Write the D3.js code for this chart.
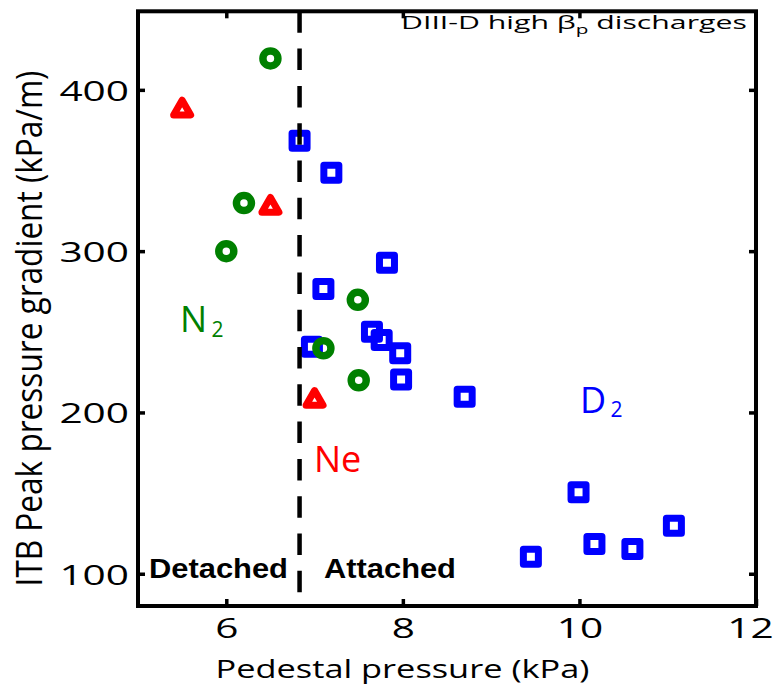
<!DOCTYPE html>
<html>
<head>
<meta charset="utf-8">
<script src="https://cdn.jsdelivr.net/npm/d3@7"></script>
<style>
  html, body { margin: 0; padding: 0; background: #ffffff; }
  svg { display: block; }
</style>
</head>
<body>
<svg id="chart" width="775" height="687"></svg>
<script>
// ---- data: pedestal pressure (kPa) vs ITB peak pressure gradient (kPa/m) ----
const d2Pressure = [6.83, 7.19, 7.10, 7.82, 6.97, 7.65, 7.76, 7.97, 7.98, 8.70, 9.99, 9.45, 10.17, 10.60, 11.07];
const d2Gradient = [368.5, 348.6, 276.5, 292.8, 240.8, 250.1, 244.9, 236.7, 220.5, 209.8, 150.5, 110.6, 118.4, 115.3, 129.8];

const n2Pressure = [6.50, 6.20, 6.00, 7.49, 7.10, 7.50];
const n2Gradient = [419.5, 329.8, 300.0, 269.8, 239.8, 220.0];

const nePressure = [5.50, 6.50, 7.00];
const neGradient = [389.0, 328.7, 209.0];

const xTicks = [6, 8, 10, 12];
const yTicks = [100, 200, 300, 400];
const detachmentBoundary = 6.83;

const xDomain = [5, 12];
const yDomain = [80, 448.7];

// ---- layout ----
const svg = d3.select("#chart");
const plotLeft = 138, plotRight = 756, plotTop = 11.3, plotBottom = 606;
const TEXT_STRETCH = 1.45;   // wide humanist lettering on the axes

const x = d3.scaleLinear().domain(xDomain).range([plotLeft, plotRight]);
const y = d3.scaleLinear().domain(yDomain).range([plotBottom, plotTop]);

const BLUE = "#0000ff", GREEN = "#008000", RED = "#ff0000";
const SANS = "'Open Sans', 'DejaVu Sans', sans-serif";

// helper: text scaled horizontally to a target width
function fitText(parent, str, opt) {
  const t = parent.append("text")
    .attr("x", 0).attr("y", 0)
    .attr("font-family", opt.family || SANS)
    .attr("font-size", opt.size)
    .attr("font-weight", opt.weight || "normal")
    .attr("fill", opt.color || "#000")
    .attr("text-anchor", opt.anchor || "start")
    .text(str);
  const w = t.node().getComputedTextLength();
  const s = opt.width ? opt.width / w : 1;
  t.attr("transform", `translate(${opt.x},${opt.y}) scale(${s},1)`);
  return t;
}

// ---- axes (ticks point inward on all four sides) ----
const axB = svg.append("g").attr("transform", `translate(0,${plotBottom})`)
  .call(d3.axisBottom(x).tickValues(xTicks).tickSizeInner(-7).tickSizeOuter(0).tickFormat(d3.format("d")));
const axL = svg.append("g").attr("transform", `translate(${plotLeft},0)`)
  .call(d3.axisLeft(y).tickValues(yTicks).tickSizeInner(-7).tickSizeOuter(0).tickFormat(d3.format("d")));
const axT = svg.append("g").attr("transform", `translate(0,${plotTop})`)
  .call(d3.axisTop(x).tickValues(xTicks.filter(v => v < 12)).tickSizeInner(-7).tickSizeOuter(0).tickFormat(""));
const axR = svg.append("g").attr("transform", `translate(${plotRight},0)`)
  .call(d3.axisRight(y).tickValues(yTicks).tickSizeInner(-7).tickSizeOuter(0).tickFormat(""));

[axB, axL, axT, axR].forEach(a => {
  a.select(".domain").remove();
  a.selectAll(".tick line").attr("stroke", "#000").attr("stroke-width", 3.5);
});

axB.selectAll(".tick text")
  .attr("font-family", SANS).attr("font-size", 28).attr("fill", "#000")
  .attr("text-anchor", "middle")
  .attr("dy", 0).attr("y", 32)
  .attr("x", d => d === 12 ? -6 / TEXT_STRETCH : 0)
  .attr("transform", `scale(${TEXT_STRETCH},1)`);

axL.selectAll(".tick text")
  .attr("font-family", SANS).attr("font-size", 28).attr("fill", "#000")
  .attr("text-anchor", "end")
  .attr("dy", 0).attr("y", 10.5)
  .attr("x", -9 / TEXT_STRETCH)
  .attr("transform", `scale(${TEXT_STRETCH},1)`);

// ---- detached / attached boundary (dashed, with a soft grey trace) ----
const blur = svg.append("defs").append("filter").attr("id", "soft")
  .attr("x", "-2").attr("width", "5");
blur.append("feGaussianBlur").attr("stdDeviation", 1.2);

svg.append("line")
  .attr("x1", x(detachmentBoundary)).attr("x2", x(detachmentBoundary))
  .attr("y1", plotTop).attr("y2", plotBottom)
  .attr("stroke", "#cfcfcf").attr("stroke-width", 4.5)
  .attr("filter", "url(#soft)");

// ---- markers ----
const squarePath = d3.symbol().type(d3.symbolSquare).size(225)();
const circlePath = d3.symbol().type(d3.symbolCircle).size(Math.PI * 7.5 * 7.5)();
const triS = 17, triH = triS * Math.sqrt(3) / 2;
const trianglePath = `M0,${-triH / 2}L${triS / 2},${triH / 2}L${-triS / 2},${triH / 2}Z`;

const d2 = d2Pressure.map((p, i) => ({ p, g: d2Gradient[i] }));
const n2 = n2Pressure.map((p, i) => ({ p, g: n2Gradient[i] }));
const ne = nePressure.map((p, i) => ({ p, g: neGradient[i] }));

svg.append("g").selectAll("path").data(d2).join("path")
  .attr("d", squarePath)
  .attr("transform", d => `translate(${x(d.p)},${y(d.g)})`)
  .attr("fill", "none").attr("stroke", BLUE).attr("stroke-width", 7)
  .attr("stroke-linejoin", "round");

svg.append("g").selectAll("path").data(n2).join("path")
  .attr("d", circlePath)
  .attr("transform", d => `translate(${x(d.p)},${y(d.g)})`)
  .attr("fill", "none").attr("stroke", GREEN).attr("stroke-width", 7.5);

svg.append("g").selectAll("path").data(ne).join("path")
  .attr("d", trianglePath)
  .attr("transform", d => `translate(${x(d.p)},${y(d.g)})`)
  .attr("fill", "none").attr("stroke", RED).attr("stroke-width", 7)
  .attr("stroke-linejoin", "round");

svg.append("line")
  .attr("x1", x(detachmentBoundary)).attr("x2", x(detachmentBoundary))
  .attr("y1", plotTop).attr("y2", plotBottom)
  .attr("stroke", "#000").attr("stroke-width", 4.5)
  .attr("stroke-dasharray", "21.5,15.8");

// ---- frame ----
svg.append("rect")
  .attr("x", plotLeft).attr("y", plotTop)
  .attr("width", plotRight - plotLeft).attr("height", plotBottom - plotTop)
  .attr("fill", "none").attr("stroke", "#000").attr("stroke-width", 4);

// ---- species labels ----
function speciesLabel(main, sub, color, xm, ym, xs, ys) {
  svg.append("text").attr("x", xm).attr("y", ym)
    .attr("font-family", SANS).attr("font-size", 36).attr("fill", color).text(main);
  if (sub) {
    svg.append("text").attr("x", xs).attr("y", ys)
      .attr("font-family", SANS).attr("font-size", 21).attr("fill", color).text(sub);
  }
}
speciesLabel("N", "2", GREEN, 180, 332, 211.5, 337);
speciesLabel("D", "2", BLUE, 580, 413, 610.5, 417);
speciesLabel("Ne", null, RED, 314, 472);

// ---- region labels ----
fitText(svg, "Detached", { x: 149, y: 578, size: 28, weight: "bold",
  family: "'Liberation Sans', Arial, sans-serif", width: 139 });
fitText(svg, "Attached", { x: 324, y: 578, size: 28, weight: "bold",
  family: "'Liberation Sans', Arial, sans-serif", width: 132 });

// ---- title inside the frame ----
const title = svg.append("text").attr("x", 0).attr("y", 0)
  .attr("font-family", SANS).attr("font-size", 19).attr("fill", "#000");
title.append("tspan").text("DIII-D high \u03B2");
title.append("tspan").attr("font-size", 13).attr("dy", 5).text("p");
title.append("tspan").attr("dy", -5).text(" discharges");
{
  const w = title.node().getBBox().width;
  title.attr("transform", `translate(401,29) scale(${346 / w},1)`);
}

// ---- axis titles ----
fitText(svg, "Pedestal pressure (kPa)", { x: 402.5, y: 678, size: 26, anchor: "middle", width: 374 });

const yTitle = svg.append("text").attr("x", 0).attr("y", 0)
  .attr("font-family", SANS).attr("font-size", 28).attr("fill", "#000")
  .attr("text-anchor", "middle")
  .text("ITB Peak pressure gradient (kPa/m)");
{
  const L = yTitle.node().getComputedTextLength();
  yTitle.attr("transform", `translate(42,328.5) scale(1.32,1) rotate(-90) scale(${516 / L},1)`);
}
</script>
</body>
</html>
